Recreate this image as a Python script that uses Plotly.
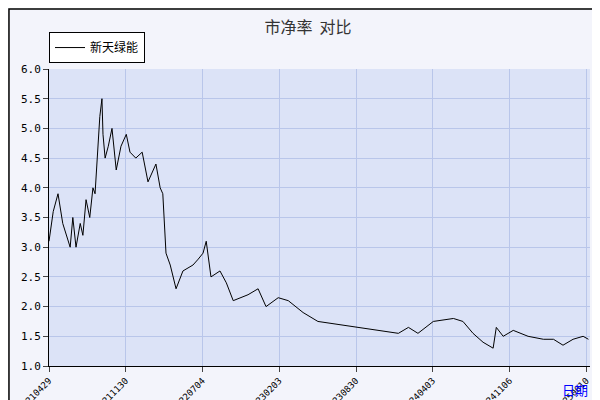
import plotly.graph_objects as go

# trading-day index and price/book values
day_idx = [0, 8, 17, 26, 40, 45, 51, 59, 64, 70, 77, 83, 87, 93, 96, 100, 102, 106, 112,
           119, 127, 136, 146, 153, 164, 176, 187, 202, 210, 215, 221, 229, 240, 253, 272,
           282, 291, 297, 306, 323, 335, 348, 376, 395, 410, 433, 452, 480, 508, 546, 584,
           622, 660, 679, 697, 726, 764, 782, 801, 820, 839, 845, 858, 877, 905, 934, 953,
           971, 990, 1009, 1019]
pb = [3.1, 3.6, 3.9, 3.4, 3.0, 3.5, 3.0, 3.4, 3.2, 3.8, 3.5, 4.0, 3.9, 4.8, 5.2, 5.5, 4.9,
      4.5, 4.7, 5.0, 4.3, 4.7, 4.9, 4.6, 4.5, 4.6, 4.1, 4.4, 4.0, 3.9, 2.9, 2.7, 2.3, 2.6,
      2.7, 2.8, 2.9, 3.1, 2.5, 2.6, 2.4, 2.1, 2.2, 2.3, 2.0, 2.15, 2.1, 1.9, 1.75, 1.7,
      1.65, 1.6, 1.55, 1.65, 1.55, 1.75, 1.8, 1.75, 1.55, 1.4, 1.3, 1.65, 1.5, 1.6, 1.5,
      1.45, 1.45, 1.35, 1.45, 1.5, 1.45]
tick_idx = [0, 145, 290, 435, 580, 725, 870, 1015]
tick_labels = ['20210429', '20211130', '20220704', '20230203', '20230830',
               '20240403', '20241106', '20250610']

fig = go.Figure(go.Scatter(x=day_idx, y=pb, mode='lines', name='新天绿能',
                           line=dict(color='black', width=1)))
fig.update_layout(
    width=600, height=400,
    paper_bgcolor='#f3f4fb', plot_bgcolor='#dce3f7',
    margin=dict(l=41, r=18, t=61, b=42),
    title=dict(text='市净率  对比', x=0.5, y=0.965, xanchor='center',
               font=dict(size=16, color='#333', family='Noto Sans CJK SC')),
    font=dict(family='DejaVu Sans Mono', size=11, color='black'),
    showlegend=True,
    legend=dict(x=0.0, y=1.02, xanchor='left', yanchor='bottom', bgcolor='white',
                bordercolor='black', borderwidth=1, itemwidth=30,
                font=dict(family='Noto Sans CJK SC', size=12)),
    xaxis=dict(range=[0, 1022], tickvals=tick_idx, ticktext=tick_labels,
               tickangle=-45, showgrid=True, gridcolor='#b9c6ea', ticks='outside',
               showline=True, linecolor='black', zeroline=False, automargin=False,
               tickfont=dict(size=9)),
    yaxis=dict(range=[1.0, 6.0], dtick=0.5, tickformat='.1f', showgrid=True,
               gridcolor='#b9c6ea', ticks='outside', showline=True, automargin=False,
               linecolor='black', zeroline=False),
    annotations=[dict(text='日期', xref='paper', yref='paper', x=1.0, y=-0.04,
                      xanchor='right', yanchor='top', showarrow=False,
                      font=dict(color='blue', size=13, family='Noto Sans CJK SC'))],
    shapes=[dict(type='rect', xref='paper', yref='paper', x0=-0.074, x1=1.03,
                 y0=-0.125, y1=1.202, line=dict(color='black', width=1.5))],
)
fig.write_html('out.html')
